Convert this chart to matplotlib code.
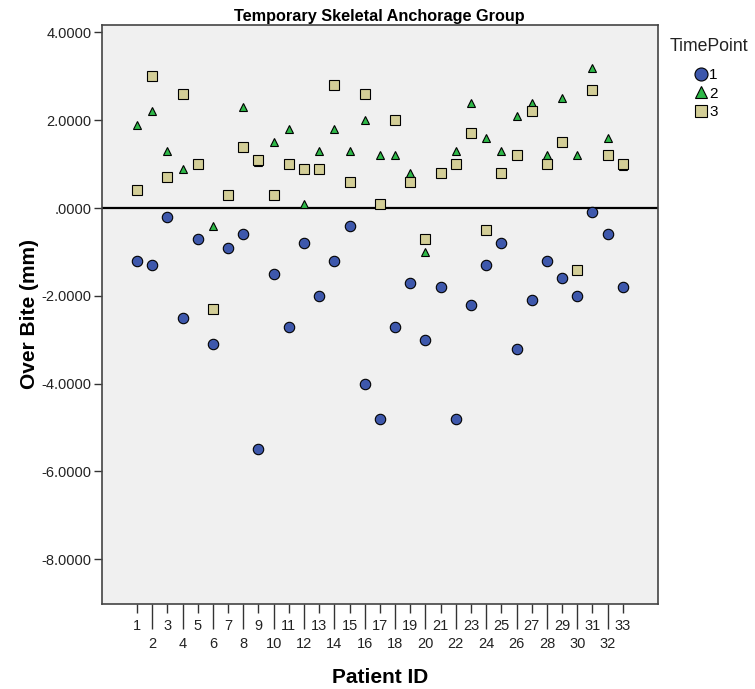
import matplotlib
matplotlib.use("Agg")
import matplotlib.pyplot as plt
from matplotlib.ticker import FixedLocator, FixedFormatter, FuncFormatter

plt.rcParams['font.family'] = ['Liberation Sans', 'DejaVu Sans']

patients = list(range(1, 34))

# over bite (mm) per patient, one list per time point
tp1 = [-1.2, -1.3, -0.2, -2.5, -0.7, -3.1, -0.9, -0.6, -5.5, -1.5, -2.7,
       -0.8, -2.0, -1.2, -0.4, -4.0, -4.8, -2.7, -1.7, -3.0, -1.8, -4.8,
       -2.2, -1.3, -0.8, -3.2, -2.1, -1.2, -1.6, -2.0, -0.1, -0.6, -1.8]
tp2 = [1.9, 2.2, 1.3, 0.9, 1.0, -0.4, 0.3, 2.3, 1.05, 1.5, 1.8,
       0.1, 1.3, 1.8, 1.3, 2.0, 1.2, 1.2, 0.8, -1.0, 0.8, 1.3,
       2.4, 1.6, 1.3, 2.1, 2.4, 1.2, 2.5, 1.2, 3.2, 1.6, 0.95]
tp3 = [0.4, 3.0, 0.7, 2.6, 1.0, -2.3, 0.3, 1.4, 1.1, 0.3, 1.0,
       0.9, 0.9, 2.8, 0.6, 2.6, 0.1, 2.0, 0.6, -0.7, 0.8, 1.0,
       1.7, -0.5, 0.8, 1.2, 2.2, 1.0, 1.5, -1.4, 2.7, 1.2, 1.0]

yticks = [4, 2, 0, -2, -4, -6, -8]

series = [
    ("1", tp1, "o", "#3E58AC", 7.5),
    ("2", tp2, "^", "#2EB848", 6.4),
    ("3", tp3, "s", "#D3CE97", 7.3),
]

fig = plt.figure(figsize=(7.55, 6.89), dpi=100)
ax = fig.add_axes([0.1347, 0.1234, 0.7364, 0.8403])
ax.set_facecolor("#F0F0F0")

handles = []
for name, vals, mk, col, ms in series:
    h, = ax.plot(patients, vals, linestyle="none", marker=mk, markersize=ms,
                 markerfacecolor=col, markeredgecolor="black",
                 markeredgewidth=0.8, label=name, zorder=3)
    handles.append(h)

ax.axhline(0, color="black", linewidth=1.6, zorder=2)

ax.set_xlim(-1.33, 35.3)
ax.set_ylim(-9.02, 4.17)

def yfmt(v, pos):
    s = "%.4f" % v
    if s.startswith("0."):
        s = s[1:]
    if s == "-0.0000":
        s = ".0000"
    return s

ax.yaxis.set_major_locator(FixedLocator(yticks))
ax.yaxis.set_major_formatter(FuncFormatter(yfmt))
ax.tick_params(axis="y", length=5.8, width=1.0, color="#333333",
               labelsize=10.5, pad=1.5, labelcolor="#222222")

odd = [p for p in patients if p % 2 == 1]
even = [p for p in patients if p % 2 == 0]
ax.xaxis.set_major_locator(FixedLocator(odd))
ax.xaxis.set_major_formatter(FixedFormatter([str(p) for p in odd]))
ax.xaxis.set_minor_locator(FixedLocator(even))
ax.xaxis.set_minor_formatter(FixedFormatter([str(p) for p in even]))
ax.tick_params(axis="x", which="major", length=6.5, width=1.0, color="#333333",
               labelsize=10.5, pad=4, labelcolor="#222222")
ax.tick_params(axis="x", which="minor", length=18, width=1.0, color="#333333",
               labelsize=10.5, pad=5.5, labelcolor="#222222")

for sp in ax.spines.values():
    sp.set_color("#444444")
    sp.set_linewidth(1.2)

ax.set_title("Temporary Skeletal Anchorage Group", fontsize=11.7,
             fontweight="bold", pad=3)
ax.set_ylabel("Over Bite (mm)", fontsize=15, fontweight="bold")
ax.yaxis.set_label_coords(-0.113, 0.5)
ax.set_xlabel("Patient ID", fontsize=15, fontweight="bold")
ax.xaxis.set_label_coords(0.5, -0.11)

fig.text(0.939, 0.932, "TimePoint", fontsize=12.7, ha="center", va="center",
         color="#222222")
fig.legend(handles=handles, labels=[s[0] for s in series],
           loc="upper left", bbox_to_anchor=(0.918, 0.901), frameon=False,
           fontsize=11, handlelength=1.0, handletextpad=0.05,
           labelspacing=0.3, borderpad=0, borderaxespad=0, markerscale=1.25)

fig.savefig("out.png", dpi=100)
